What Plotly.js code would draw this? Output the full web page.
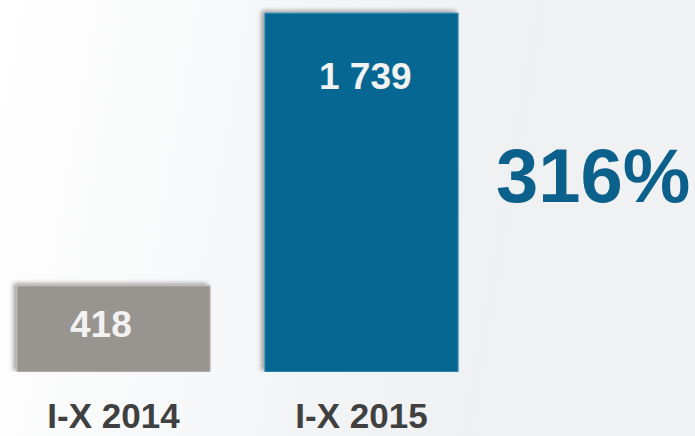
<!DOCTYPE html>
<html>
<head>
<meta charset="utf-8">
<script src="https://cdn.plot.ly/plotly-3.0.1.min.js"></script>
<style>
html,body{margin:0;padding:0;}
body{width:695px;height:436px;background:linear-gradient(100deg,#ffffff 0%,#f6f7f8 35%,#eef0f2 70%,#f1f2f4 100%);}
#chart{width:695px;height:436px;}
#chart .bars .point path{filter:drop-shadow(-3px -2px 2px rgba(60,60,60,0.45));}
</style>
</head>
<body>
<div id="chart"></div>
<script>
const categories = ["I-X 2014", "I-X 2015"];
const values = [418, 1739];
const valueLabels = ["418", "1 739"];
const barColors = ["#98948f", "#066892"];
const growthLabel = "316%";

const trace = {
  type: "bar",
  x: categories,
  y: values,
  marker: {color: barColors, line: {color: ["#c9c6c2", "#4f9cc0"], width: 1}},
  width: 0.78,
  hoverinfo: "skip",
  textposition: "none"
};

const labelShift = [{x: -13, y: -39}, {x: 4, y: -63}];
const annotations = categories.map((c, i) => ({
  x: c, y: values[i], xref: "x", yref: "y",
  text: "<b>" + valueLabels[i] + "</b>",
  showarrow: false, xanchor: "center", yanchor: "middle",
  xshift: labelShift[i].x, yshift: labelShift[i].y,
  font: {family: "Liberation Sans, Arial, sans-serif", size: 37, color: "#f2f2f2"}
}));
annotations.push({
  x: 0.853, y: 0.527, xref: "paper", yref: "paper",
  text: "<b>" + growthLabel + "</b>", showarrow: false,
  xanchor: "center", yanchor: "middle",
  font: {family: "Liberation Sans, Arial, sans-serif", size: 76, color: "#0b608c"}
});

const layout = {
  width: 695, height: 436,
  margin: {l: 0, r: 0, t: 0, b: 64, pad: 0},
  paper_bgcolor: "rgba(0,0,0,0)",
  plot_bgcolor: "rgba(0,0,0,0)",
  showlegend: false,
  xaxis: {
    type: "category",
    range: [-0.4577, 2.345],
    showgrid: false, zeroline: false, showline: false,
    ticks: "", ticklabelstandoff: 20,
    tickfont: {family: "Liberation Sans, Arial, sans-serif", size: 35, color: "#404040", weight: "bold"},
    fixedrange: true
  },
  yaxis: {
    range: [0, 1802],
    visible: false, showgrid: false, zeroline: false, fixedrange: true
  },
  annotations: annotations
};

Plotly.newPlot("chart", [trace], layout, {displayModeBar: false, staticPlot: true});
</script>
</body>
</html>
